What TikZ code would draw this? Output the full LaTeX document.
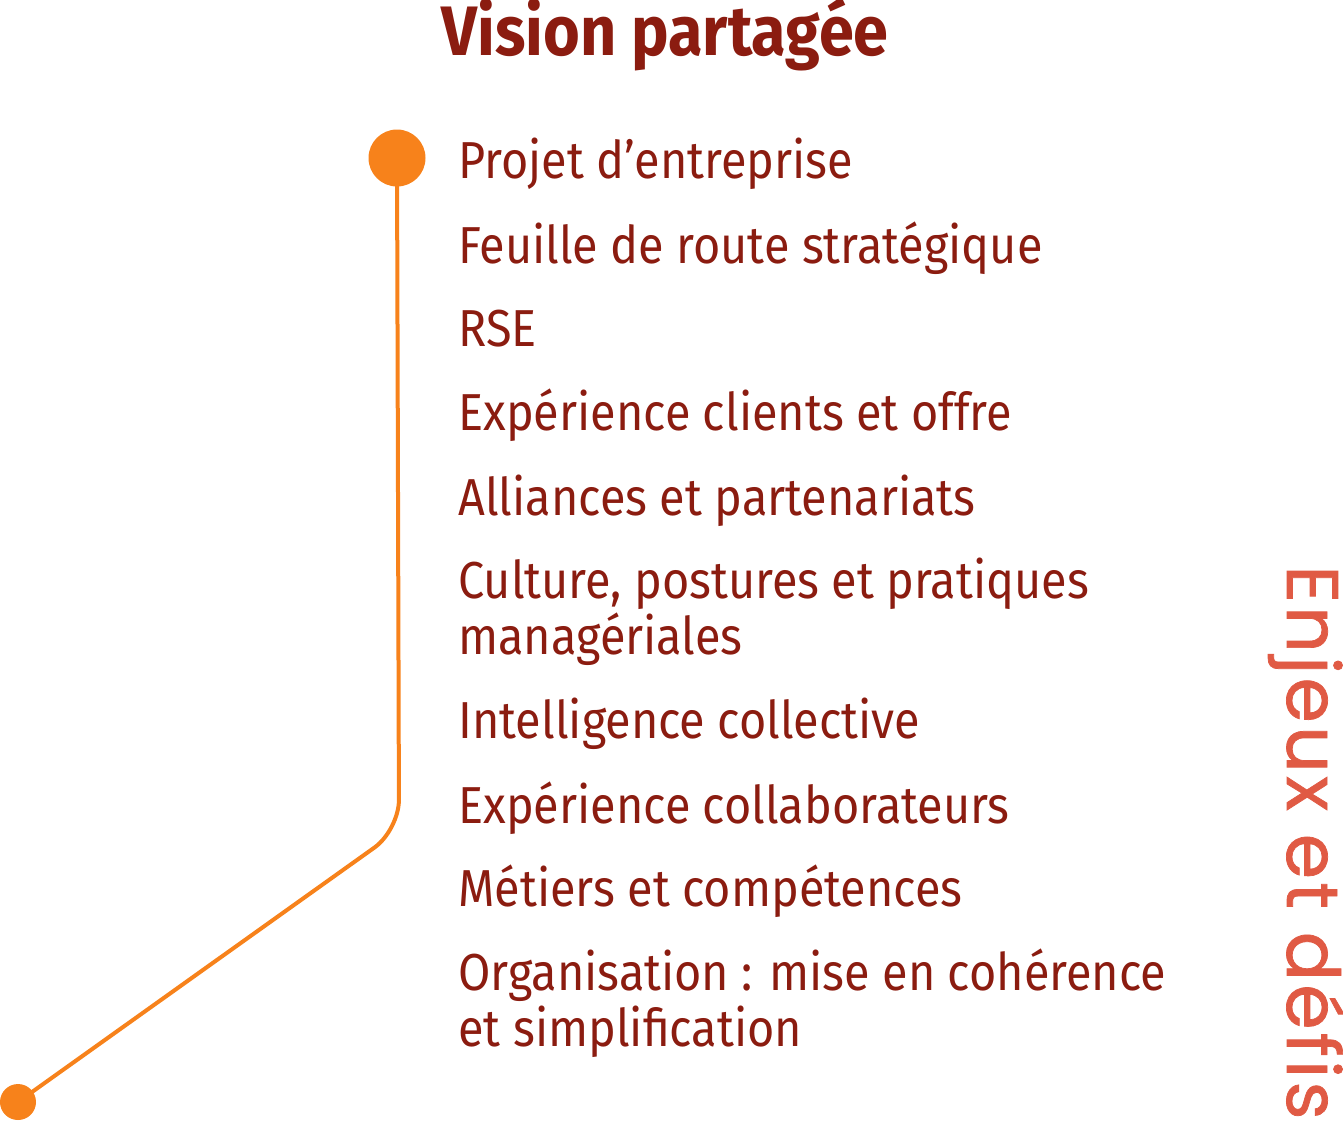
\documentclass[tikz,border=0pt]{standalone}
\usepackage{fontspec}
\setmainfont{Fira Sans}[FakeStretch=0.9]
\newfontfamily\titlefont{Fira Sans}[FakeStretch=0.9,UprightFont=* Bold]
\newfontfamily\sidefont{Poppins}[LetterSpace=4.5,FakeBold=1]
\definecolor{darkred}{HTML}{8B1C10}
\definecolor{lineorange}{HTML}{F7821B}
\definecolor{sidered}{HTML}{E05A44}
\tikzset{
  item/.style={anchor=base west, inner sep=0pt, text=darkred, align=left,
    font=\fontsize{26}{28}\selectfont},
  dot/.style={circle, fill=lineorange, inner sep=0pt},
  link/.style={draw=lineorange, line width=2pt, rounded corners=15pt}
}
\begin{document}
\begin{tikzpicture}[x=0.5pt,y=-0.5pt]
\useasboundingbox (0,0) rectangle (1343,1121);
\node[anchor=base, inner sep=0pt, text=darkred, font=\titlefont\fontsize{35}{36}\selectfont] (title) at (665,55) {Vision partagée};
\node[dot, minimum size=28.5pt] (top) at (397,158) {};
\node[dot, minimum size=18pt] (bottom) at (18,1102) {};
\coordinate (corner) at (399,830);
\draw[link] (top.center) -- (corner) -- (bottom.center);
\node[item] (i1) at (458,178) {Projet d’entreprise};
\node[item] (i2) at (458,263) {Feuille de route stratégique};
\node[item] (i3) at (458,346) {RSE};
\node[item] (i4) at (458,430) {Expérience clients et offre};
\node[item] (i5) at (458,515) {Alliances et partenariats};
\node[item] (i6) at (458,654) {Culture, postures et pratiques\\managériales};
\node[item] (i7) at (458,738) {Intelligence collective};
\node[item] (i8) at (458,823) {Expérience collaborateurs};
\node[item] (i9) at (458,906) {Métiers et compétences};
\node[item] (i10) at (458,1046) {Organisation : mise en cohérence\\et simplification};
\node[anchor=base west, inner sep=0pt, rotate=-90, text=sidered, font=\sidefont\fontsize{36.5}{38}\selectfont] (side) at (1287,565) {Enjeux et défis};
\end{tikzpicture}
\end{document}
